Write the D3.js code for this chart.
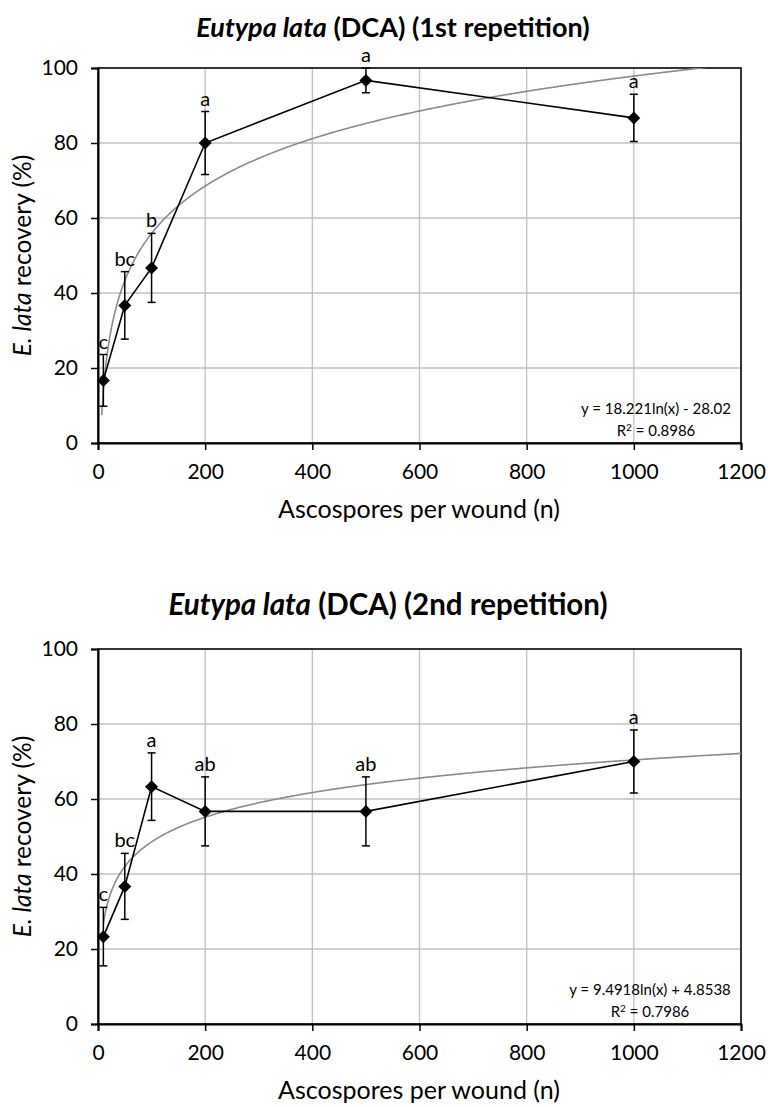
<!DOCTYPE html>
<html>
<head>
<meta charset="utf-8">
<script src="https://cdn.jsdelivr.net/npm/d3@7/dist/d3.min.js"></script>
<style>
  html, body { margin: 0; padding: 0; background: #fff; }
  svg { display: block; font-family: Lato, "Open Sans", sans-serif; }
</style>
</head>
<body>
<svg id="chart" width="768" height="1107"></svg>
<script>
// ---- data ----
const xValues = [10, 50, 100, 200, 500, 1000];
const rep1Values = [16.7, 36.7, 46.7, 80.0, 96.7, 86.7];
const rep1Errors = [6.9, 9.0, 9.2, 8.4, 3.3, 6.3];
const rep1Letters = ["c", "bc", "b", "a", "a", "a"];
const rep2Values = [23.3, 36.7, 63.3, 56.7, 56.7, 70.0];
const rep2Errors = [7.8, 8.8, 9.0, 9.2, 9.2, 8.4];
const rep2Letters = ["c", "bc", "a", "ab", "ab", "a"];
const rep1Fit = { a: 18.221, b: -28.02, r2: "0.8986", label: "y = 18.221ln(x) - 28.02", start: 7 };
const rep2Fit = { a: 9.4918, b: 4.8538, r2: "0.7986", label: "y = 9.4918ln(x) + 4.8538", start: 10 };
const xTicks = [0, 200, 400, 600, 800, 1000, 1200];
const yTicks = [0, 20, 40, 60, 80, 100];
const titles = ["(DCA) (1st repetition)", "(DCA) (2nd repetition)"];

const svg = d3.select("#chart");

function drawChart(cfg) {
  const { top, values, errors, letters, fit, title, titleSize } = cfg;
  const left = 98, right = 741, height = 375;
  const x = d3.scaleLinear().domain([0, 1200]).range([left, right]);
  const y = d3.scaleLinear().domain([0, 100]).range([top + height, top]);
  const g = svg.append("g");

  // gridlines
  g.append("g").selectAll("line.h").data(yTicks.slice(1)).join("line")
    .attr("x1", left).attr("x2", right)
    .attr("y1", d => y(d)).attr("y2", d => y(d))
    .attr("stroke", "#c0c0c0").attr("stroke-width", 1.3);
  g.append("g").selectAll("line.v").data(xTicks.slice(1)).join("line")
    .attr("y1", top).attr("y2", top + height)
    .attr("x1", d => x(d)).attr("x2", d => x(d))
    .attr("stroke", "#c0c0c0").attr("stroke-width", 1.3);

  // frame
  g.append("rect").attr("x", left).attr("y", top)
    .attr("width", right - left).attr("height", height)
    .attr("fill", "none").attr("stroke", "#000").attr("stroke-width", 1.5);

  // axes
  const xAxis = g.append("g").attr("transform", `translate(0,${top + height})`)
    .call(d3.axisBottom(x).tickValues(xTicks).tickSize(7).tickPadding(14).tickFormat(d3.format("d")));
  const yAxis = g.append("g").attr("transform", `translate(${left},0)`)
    .call(d3.axisLeft(y).tickValues(yTicks).tickSize(7).tickPadding(13).tickFormat(d3.format("d")));
  [xAxis, yAxis].forEach(a => {
    a.select(".domain").attr("stroke", "#000").attr("stroke-width", 2);
    a.selectAll(".tick line").attr("stroke", "#000").attr("stroke-width", 1.5);
    a.selectAll(".tick text").attr("fill", "#000").style("font-size", "21px")
      .style("font-family", "Lato, sans-serif");
  });

  // trend line
  const clip = "clip" + top;
  svg.append("defs").append("clipPath").attr("id", clip)
    .append("rect").attr("x", left).attr("y", top).attr("width", right - left).attr("height", height);
  const trendX = d3.range(fit.start, 1200.5, 2);
  const trend = trendX.map(v => [v, fit.a * Math.log(v) + fit.b]);
  g.append("path").datum(trend)
    .attr("clip-path", `url(#${clip})`)
    .attr("fill", "none").attr("stroke", "#8a8a8a").attr("stroke-width", 1.6)
    .attr("d", d3.line().x(d => x(d[0])).y(d => y(d[1])));

  const pts = xValues.map((v, i) => ({ x: v, y: values[i], e: errors[i], l: letters[i] }));

  // data line
  g.append("path").datum(pts)
    .attr("fill", "none").attr("stroke", "#000").attr("stroke-width", 1.6)
    .attr("d", d3.line().x(d => x(d.x)).y(d => y(d.y)));

  // error bars
  const eb = g.append("g").attr("stroke", "#000").attr("stroke-width", 1.5);
  pts.forEach(p => {
    const y1 = y(Math.min(100, p.y + p.e)), y0 = y(p.y - p.e), cx = x(p.x);
    eb.append("line").attr("x1", cx).attr("x2", cx).attr("y1", y1).attr("y2", y0);
    if (p.y + p.e <= 100) eb.append("line").attr("x1", cx - 4).attr("x2", cx + 4).attr("y1", y1).attr("y2", y1);
    eb.append("line").attr("x1", cx - 4).attr("x2", cx + 4).attr("y1", y0).attr("y2", y0);
  });

  // markers (diamonds)
  g.append("g").selectAll("path").data(pts).join("path")
    .attr("transform", d => `translate(${x(d.x)},${y(d.y)})`)
    .attr("d", "M0,-6.5L6.5,0L0,6.5L-6.5,0Z")
    .attr("fill", "#000");

  // letters
  g.append("g").selectAll("text").data(pts).join("text")
    .attr("x", d => x(d.x))
    .attr("y", d => y(Math.min(100, d.y + d.e)) - 6)
    .attr("text-anchor", "middle")
    .style("font-size", "20px")
    .text(d => d.l);

  // equation
  const eqX = cfg.eqX;
  g.append("text").attr("x", eqX).attr("y", top + height - 29)
    .attr("text-anchor", "middle").style("font-size", "15px").text(fit.label);
  const r = g.append("text").attr("x", eqX).attr("y", top + height - 7)
    .attr("text-anchor", "middle").style("font-size", "15px");
  r.append("tspan").text("R");
  r.append("tspan").attr("dy", -5).style("font-size", "10px").text("2");
  r.append("tspan").attr("dy", 5).text(" = " + fit.r2);

  // title
  const t = svg.append("text").attr("x", cfg.titleX).attr("y", top + cfg.titleDy)
    .attr("text-anchor", "middle").style("font-size", titleSize + "px").style("font-weight", "bold");
  t.append("tspan").style("font-style", "italic").text("Eutypa lata");
  t.append("tspan").text(" " + title);

  // axis titles
  svg.append("text").attr("x", 419).attr("y", top + height + 75)
    .attr("text-anchor", "middle").style("font-size", "25px").text("Ascospores per wound (n)");
  const yt = svg.append("text")
    .attr("transform", `translate(31,${top + height / 2}) rotate(-90)`)
    .attr("text-anchor", "middle").style("font-size", "24.5px");
  yt.append("tspan").style("font-style", "italic").text("E. lata");
  yt.append("tspan").text(" recovery (%)");
}

drawChart({ top: 68, values: rep1Values, errors: rep1Errors, letters: rep1Letters, fit: rep1Fit, title: titles[0], titleSize: 27, titleX: 393, titleDy: -31, eqX: 656 });
drawChart({ top: 649, values: rep2Values, errors: rep2Errors, letters: rep2Letters, fit: rep2Fit, title: titles[1], titleSize: 29.5, titleX: 388, titleDy: -34, eqX: 650 });
</script>
</body>
</html>
